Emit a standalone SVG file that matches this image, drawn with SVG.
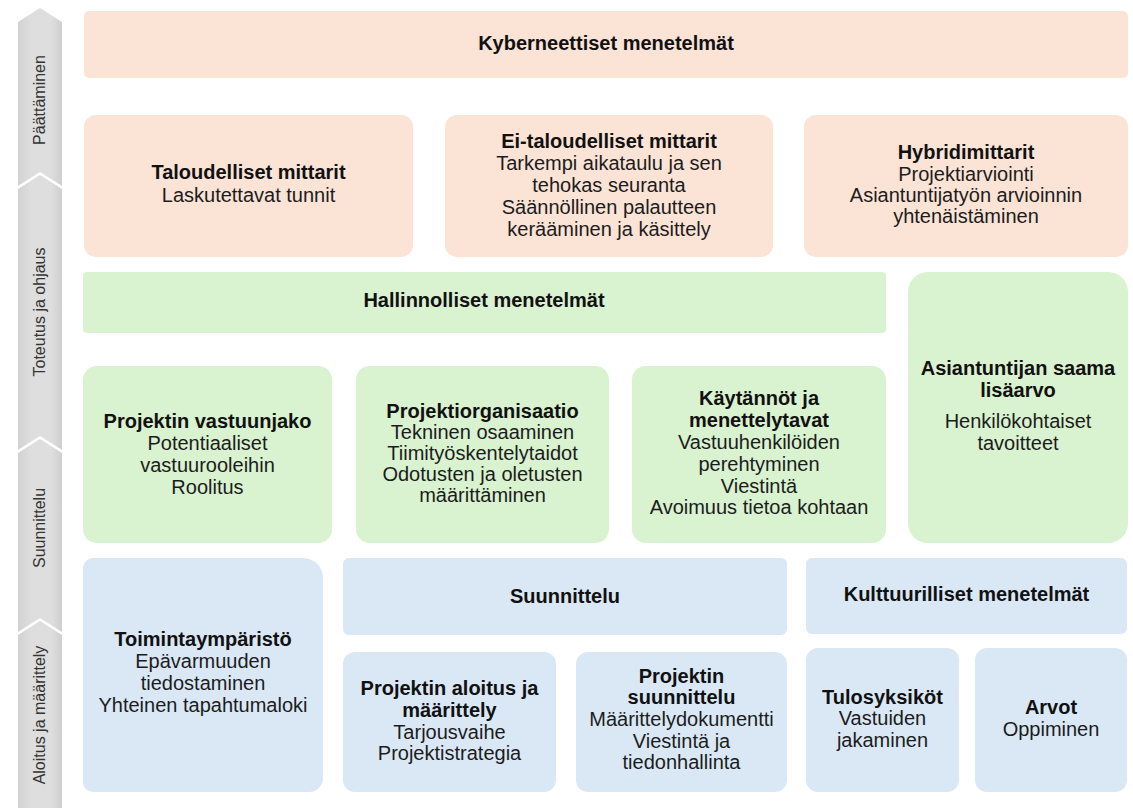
<svg xmlns="http://www.w3.org/2000/svg" width="1133" height="808" viewBox="0 0 1133 808">
<defs>
<linearGradient id="band" x1="0" y1="0" x2="1" y2="0">
<stop offset="0" stop-color="#d2d2d2"/>
<stop offset="0.3" stop-color="#dedede"/>
<stop offset="0.75" stop-color="#dedede"/>
<stop offset="1" stop-color="#cfcfcf"/>
</linearGradient>
<style>
text{font-family:"Liberation Sans",Arial,sans-serif;text-anchor:middle;}
.t{font-size:20px;font-weight:bold;fill:#111;}
.s{font-size:20px;fill:#1c1c1c;}
.lab{font-size:16px;fill:#333;}
.o{fill:#fbe3d6;}
.g{fill:#d9f2d0;}
.b{fill:#dae8f6;}
.seg{fill:url(#band);}
</style>
</defs>
<rect width="1133" height="808" fill="#ffffff"/>
<g id="phase-band">
<polygon class="seg" points="18,22 40,8 62,22 62,186 40,172 18,186"/>
<polygon class="seg" points="18,189 40,175 62,189 62,450 40,436 18,450"/>
<polygon class="seg" points="18,453 40,439 62,453 62,632 40,618 18,632"/>
<polygon class="seg" points="18,635 40,621 62,635 62,808 18,808"/>
<text class="lab" transform="translate(45,100) rotate(-90)">Päättäminen</text>
<text class="lab" transform="translate(45,312) rotate(-90)">Toteutus ja ohjaus</text>
<text class="lab" transform="translate(45,528) rotate(-90)">Suunnittelu</text>
<text class="lab" transform="translate(45,715) rotate(-90)">Aloitus ja määrittely</text>
</g>
<g id="kyberneettiset">
<rect class="o" x="84" y="11" width="1044" height="67" rx="5"/>
<text class="t" x="606" y="50">Kyberneettiset menetelmät</text>
</g>
<g id="taloudelliset">
<rect class="o" x="84" y="115" width="329" height="142" rx="12"/>
<text class="t" x="248.5" y="179">Taloudelliset mittarit</text>
<text class="s" x="248.5" y="202">Laskutettavat tunnit</text>
</g>
<g id="ei-taloudelliset">
<rect class="o" x="445" y="115" width="328" height="142" rx="12"/>
<text class="t" x="609" y="148">Ei-taloudelliset mittarit</text>
<text class="s" x="609" y="170">Tarkempi aikataulu ja sen</text>
<text class="s" x="609" y="192">tehokas seuranta</text>
<text class="s" x="609" y="214">Säännöllinen palautteen</text>
<text class="s" x="609" y="236">kerääminen ja käsittely</text>
</g>
<g id="hybridimittarit">
<rect class="o" x="804" y="115" width="324" height="142" rx="12"/>
<text class="t" x="966" y="159">Hybridimittarit</text>
<text class="s" x="966" y="181">Projektiarviointi</text>
<text class="s" x="966" y="202">Asiantuntijatyön arvioinnin</text>
<text class="s" x="966" y="223">yhtenäistäminen</text>
</g>
<g id="hallinnolliset">
<rect class="g" x="83" y="272" width="803" height="61" rx="4"/>
<text class="t" x="484" y="307">Hallinnolliset menetelmät</text>
</g>
<g id="asiantuntijan-lisaarvo">
<rect class="g" x="908" y="272" width="220" height="271" rx="20"/>
<text class="t" x="1018" y="375">Asiantuntijan saama</text>
<text class="t" x="1018" y="397">lisäarvo</text>
<text class="s" x="1018" y="428">Henkilökohtaiset</text>
<text class="s" x="1018" y="450">tavoitteet</text>
</g>
<g id="vastuunjako">
<rect class="g" x="83" y="366" width="249" height="177" rx="14"/>
<text class="t" x="207.5" y="428">Projektin vastuunjako</text>
<text class="s" x="207.5" y="450">Potentiaaliset</text>
<text class="s" x="207.5" y="472">vastuurooleihin</text>
<text class="s" x="207.5" y="494">Roolitus</text>
</g>
<g id="projektiorganisaatio">
<rect class="g" x="356" y="366" width="253" height="177" rx="14"/>
<text class="t" x="482.5" y="418">Projektiorganisaatio</text>
<text class="s" x="482.5" y="439">Tekninen osaaminen</text>
<text class="s" x="482.5" y="460">Tiimityöskentelytaidot</text>
<text class="s" x="482.5" y="481">Odotusten ja oletusten</text>
<text class="s" x="482.5" y="502">määrittäminen</text>
</g>
<g id="kaytannot">
<rect class="g" x="632" y="366" width="254" height="177" rx="14"/>
<text class="t" x="759" y="405">Käytännöt ja</text>
<text class="t" x="759" y="427">menettelytavat</text>
<text class="s" x="759" y="449">Vastuuhenkilöiden</text>
<text class="s" x="759" y="471">perehtyminen</text>
<text class="s" x="759" y="493">Viestintä</text>
<text class="s" x="759" y="514">Avoimuus tietoa kohtaan</text>
</g>
<g id="toimintaymparisto">
<path class="b" d="M93,558 H303 A20,20 0 0 1 323,578 V778 A14,14 0 0 1 309,792 H93 A10,10 0 0 1 83,782 V568 A10,10 0 0 1 93,558 Z"/>
<text class="t" x="203" y="646">Toimintaympäristö</text>
<text class="s" x="203" y="668">Epävarmuuden</text>
<text class="s" x="203" y="690">tiedostaminen</text>
<text class="s" x="203" y="712">Yhteinen tapahtumaloki</text>
</g>
<g id="suunnittelu">
<rect class="b" x="343" y="558" width="444" height="77" rx="6"/>
<text class="t" x="565" y="603">Suunnittelu</text>
</g>
<g id="projektin-aloitus">
<rect class="b" x="343" y="652" width="213" height="140" rx="12"/>
<text class="t" x="449.5" y="695">Projektin aloitus ja</text>
<text class="t" x="449.5" y="717">määrittely</text>
<text class="s" x="449.5" y="739">Tarjousvaihe</text>
<text class="s" x="449.5" y="760">Projektistrategia</text>
</g>
<g id="projektin-suunnittelu">
<rect class="b" x="576" y="652" width="211" height="140" rx="12"/>
<text class="t" x="681.5" y="683">Projektin</text>
<text class="t" x="681.5" y="704">suunnittelu</text>
<text class="s" x="681.5" y="726">Määrittelydokumentti</text>
<text class="s" x="681.5" y="748">Viestintä ja</text>
<text class="s" x="681.5" y="769">tiedonhallinta</text>
</g>
<g id="kulttuurilliset">
<rect class="b" x="806" y="558" width="321" height="76" rx="6"/>
<text class="t" x="966.5" y="601">Kulttuurilliset menetelmät</text>
</g>
<g id="tulosyksikot">
<rect class="b" x="806" y="648" width="153" height="144" rx="12"/>
<text class="t" x="882.5" y="704">Tulosyksiköt</text>
<text class="s" x="882.5" y="725">Vastuiden</text>
<text class="s" x="882.5" y="747">jakaminen</text>
</g>
<g id="arvot">
<rect class="b" x="975" y="648" width="152" height="144" rx="12"/>
<text class="t" x="1051" y="714">Arvot</text>
<text class="s" x="1051" y="736">Oppiminen</text>
</g>
<g id="connectors"/>
</svg>
